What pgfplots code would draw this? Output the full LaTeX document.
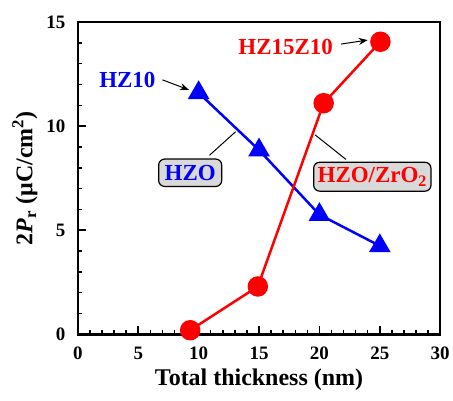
\documentclass[border=0pt]{standalone}
\usepackage{fontspec}
\setmainfont{Liberation Serif}
\usepackage{pgfplots}
\pgfplotsset{compat=1.18}
\usetikzlibrary{arrows.meta}
\definecolor{boxgray}{HTML}{D9D9D9}

\begin{document}
\begin{tikzpicture}
\begin{axis}[
  name=ax,
  scale only axis,
  width=363pt, height=313pt,
  xmin=0, xmax=30, ymin=0, ymax=15,
  xtick={0,5,...,30}, ytick={0,5,10,15},
  xticklabels={\textbf{0},\textbf{5},\textbf{10},\textbf{15},\textbf{20},\textbf{25},\textbf{30}},
  yticklabels={\textbf{0},\textbf{5},\textbf{10},\textbf{15}},
  minor x tick num=4, minor y tick num=4,
  tick pos=left, tick align=inside,
  major tick length=8pt, minor tick length=4pt,
  every tick/.style={black, line width=1.5pt},
  axis line style={line width=2.5pt},
  tick label style={font=\fontsize{19}{19}\selectfont\bfseries},
  xticklabel style={yshift=-9pt},
  yticklabel style={xshift=-9pt},
  xlabel={\textbf{Total thickness (nm)}},
  ylabel={\textbf{2\textit{P}\textsubscript{r} (μC/cm\textsuperscript{2})}},
  label style={font=\fontsize{24}{24}\selectfont},
  xlabel style={yshift=-2pt},
  ylabel style={yshift=2pt},
  clip=false,
]
% HZO (blue triangles)
\addplot[blue, line width=2.5pt, mark=triangle*, mark size=10pt, mark options={solid}]
  coordinates {(10,11.6)(15,8.85)(20,5.75)(25,4.25)};
% HZO/ZrO2 (red circles)
\addplot[red, line width=2.5pt, mark=*, mark size=9pt]
  coordinates {(9.3,0.2)(14.9,2.3)(20.35,11.1)(25.05,14.05)};

\node[blue, font=\fontsize{23}{23}\selectfont\bfseries] at (axis cs:4.1,12.2) {HZ10};
\draw[-{Stealth[length=9pt,width=7pt]}, line width=1pt] (axis cs:7.0,12.22) -- (axis cs:9.2,11.74);

\node[red, font=\fontsize{23}{23}\selectfont\bfseries] at (axis cs:17.2,13.8) {HZ15Z10};
\draw[-{Stealth[length=9pt,width=7pt]}, line width=1pt] (axis cs:21.8,13.94) -- (axis cs:24.0,14.13);

\draw[line width=1pt] (axis cs:10.9,8.6) -- (axis cs:13.06,9.73);
\draw[line width=1pt] (axis cs:22.2,8.4) -- (axis cs:19.64,9.58);

\node[draw=black, line width=1.2pt, fill=boxgray, rounded corners=6pt, inner xsep=6pt, inner ysep=6pt,
  text=blue, font=\fontsize{23}{23}\selectfont\bfseries] at (axis cs:9.3,7.76) {HZO};
\node[draw=black, line width=1.2pt, fill=boxgray, rounded corners=6pt, inner xsep=4pt, inner ysep=5pt,
  text=red, font=\fontsize{23}{23}\selectfont\bfseries] at (axis cs:24.38,7.57) {HZO/ZrO\textsubscript{2}};
\end{axis}
\path (ax.south west) ++(-78pt,-66pt) coordinate (bl);
\path (ax.north east) ++(12pt,22pt) coordinate (tr);
\path (bl) rectangle (tr);
\end{tikzpicture}
\end{document}
